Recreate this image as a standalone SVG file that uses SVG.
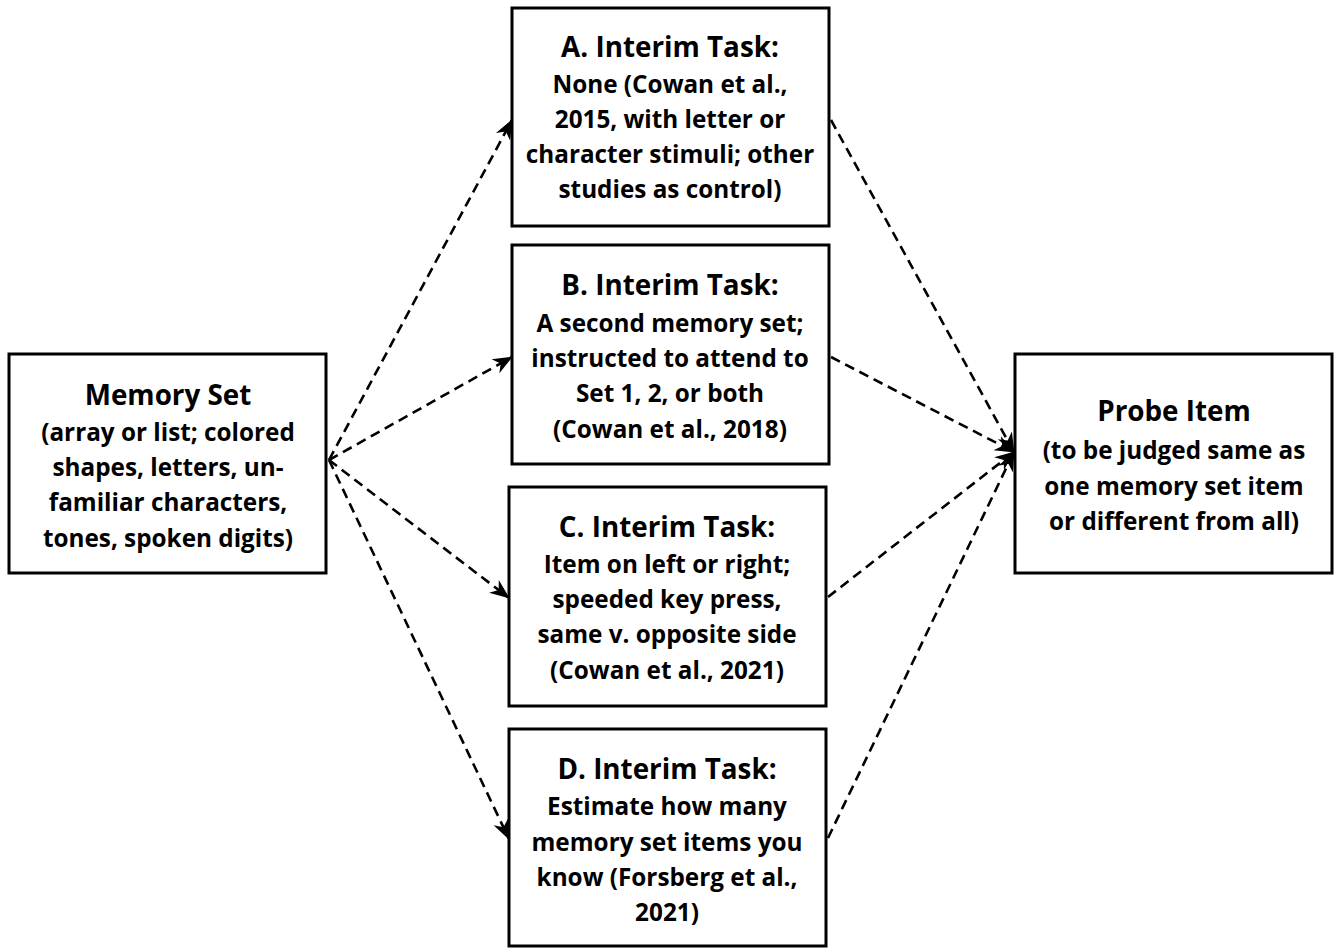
<svg xmlns="http://www.w3.org/2000/svg" width="1340" height="948" viewBox="0 0 1340 948">
<style>
.box{fill:#fff;stroke:#000;stroke-width:3}
text{font-family:"Open Sans","Liberation Sans",sans-serif;font-weight:bold;fill:#000;text-anchor:middle}
.t{font-size:27.8px}
.b{font-size:24.3px}
.c{fill:none;stroke:#000;stroke-width:2.6;stroke-dasharray:10 6}
</style>
<defs>
<marker id="ah" viewBox="0 0 20 20" refX="19" refY="10" markerWidth="20" markerHeight="20" markerUnits="userSpaceOnUse" orient="auto">
<path d="M0,2 L20,10 L0,18 L6,10 Z" fill="#000"/>
</marker>
</defs>
<rect width="1340" height="948" fill="#fff"/>
<g id="connectors">
<line class="c" x1="329" y1="460" x2="512" y2="120" marker-end="url(#ah)"/>
<line class="c" x1="329" y1="460" x2="512" y2="357" marker-end="url(#ah)"/>
<line class="c" x1="329" y1="460" x2="509" y2="598" marker-end="url(#ah)"/>
<line class="c" x1="329" y1="460" x2="509" y2="839" marker-end="url(#ah)"/>
<line class="c" x1="831" y1="120" x2="1014" y2="452" marker-end="url(#ah)"/>
<line class="c" x1="831" y1="357" x2="1014" y2="452" marker-end="url(#ah)"/>
<line class="c" x1="828" y1="597" x2="1014" y2="452" marker-end="url(#ah)"/>
<line class="c" x1="828" y1="838" x2="1014" y2="452" marker-end="url(#ah)"/>
</g>
<g id="memory-set">
<rect class="box" x="9" y="354" width="317" height="219"/>
<text class="t" x="168" y="405">Memory Set</text>
<text class="b" x="168" y="441">(array or list; colored</text>
<text class="b" x="168" y="476">shapes, letters, un-</text>
<text class="b" x="168" y="511">familiar characters,</text>
<text class="b" x="168" y="547">tones, spoken digits)</text>
</g>
<g id="task-a">
<rect class="box" x="512" y="8" width="317" height="218"/>
<text class="t" x="670" y="57">A. Interim Task:</text>
<text class="b" x="670" y="93">None (Cowan et al.,</text>
<text class="b" x="670" y="128">2015, with letter or</text>
<text class="b" x="670" y="163">character stimuli; other</text>
<text class="b" x="670" y="198">studies as control)</text>
</g>
<g id="task-b">
<rect class="box" x="512" y="245" width="317" height="219"/>
<text class="t" x="670" y="295">B. Interim Task:</text>
<text class="b" x="670" y="332">A second memory set;</text>
<text class="b" x="670" y="367">instructed to attend to</text>
<text class="b" x="670" y="402">Set 1, 2, or both</text>
<text class="b" x="670" y="438">(Cowan et al., 2018)</text>
</g>
<g id="task-c">
<rect class="box" x="509" y="487" width="317" height="219"/>
<text class="t" x="667" y="537">C. Interim Task:</text>
<text class="b" x="667" y="573">Item on left or right;</text>
<text class="b" x="667" y="608">speeded key press,</text>
<text class="b" x="667" y="643">same v. opposite side</text>
<text class="b" x="667" y="679">(Cowan et al., 2021)</text>
</g>
<g id="task-d">
<rect class="box" x="509" y="729" width="317" height="217"/>
<text class="t" x="667" y="779">D. Interim Task:</text>
<text class="b" x="667" y="815">Estimate how many</text>
<text class="b" x="667" y="851">memory set items you</text>
<text class="b" x="667" y="886">know (Forsberg et al.,</text>
<text class="b" x="667" y="921">2021)</text>
</g>
<g id="probe-item">
<rect class="box" x="1015" y="354" width="317" height="219"/>
<text class="t" x="1174" y="421">Probe Item</text>
<text class="b" x="1174" y="459">(to be judged same as</text>
<text class="b" x="1174" y="495">one memory set item</text>
<text class="b" x="1174" y="530">or different from all)</text>
</g>
</svg>
